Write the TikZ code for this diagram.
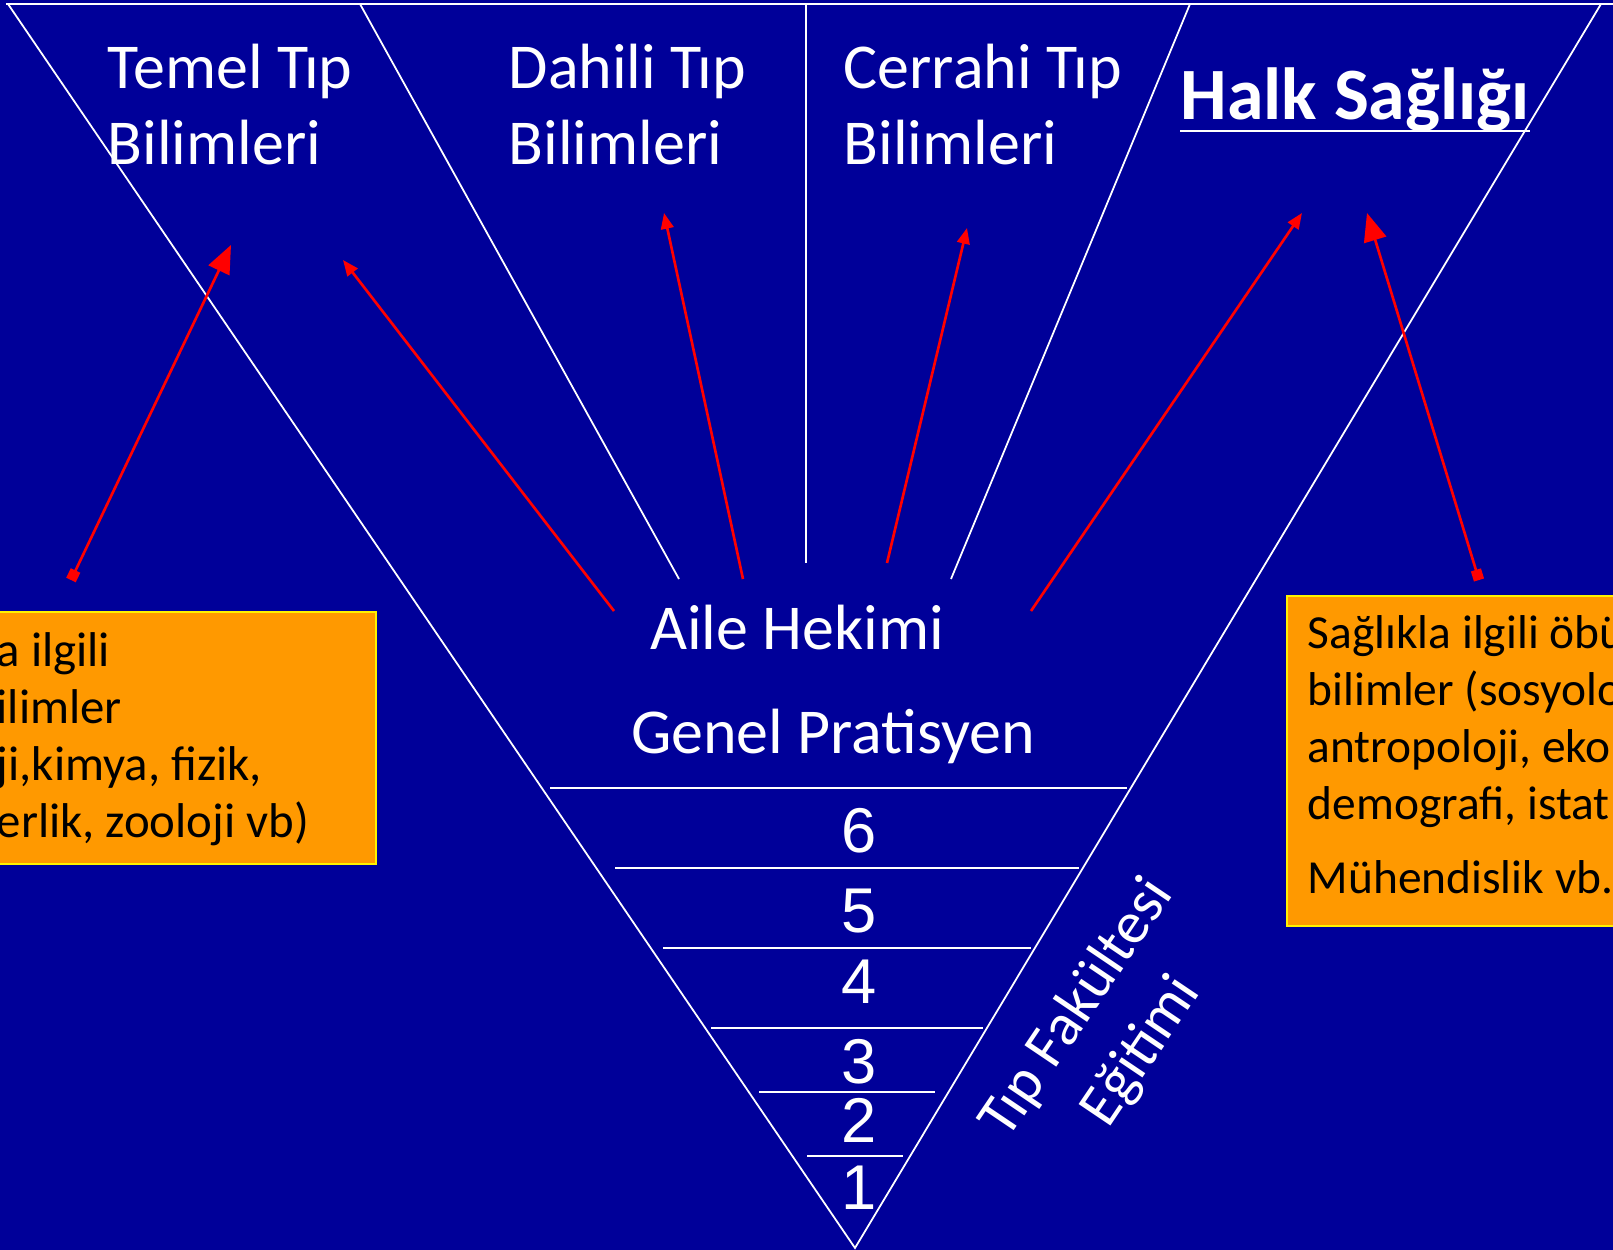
\documentclass[tikz,border=0pt]{standalone}
\usepackage{fontspec}
\setmainfont{Carlito}
\newfontfamily\digitfont{Liberation Sans}
\usepackage{tikz}
\usetikzlibrary{arrows.meta,positioning}

\definecolor{slideblue}{RGB}{0,0,153}
\definecolor{boxorange}{RGB}{255,153,0}

\begin{document}
\begin{tikzpicture}[
	head/.style={text=white, inner sep=0pt, font=\fontsize{18.2}{21.5}\selectfont},
	year/.style={text=white, inner sep=0pt, font=\digitfont\fontsize{18}{18}\selectfont},
	note/.style={text=black, inner sep=0pt, align=left, font=\fontsize{13.5}{16.2}\selectfont},
	rim/.style={white, line width=0.5pt},
	pointer/.style={red, line width=0.75pt, -{Triangle[length=4.5pt,width=3.6pt]}},
	bigpointer/.style={red, line width=0.75pt, {Square[length=3pt,width=3pt]}-{Triangle[length=8pt,width=6.5pt]}}]

	\useasboundingbox (0,0) rectangle (16.13,-12.5);
	\fill[slideblue] (0,0) rectangle (16.13,-12.5);
	\clip (0,0) rectangle (16.13,-12.5);

	% Funnel
	\draw[rim] (0.06,-0.04) -- (16.13,-0.04);
	\draw[rim] (0.08,-0.04) -- (8.55,-12.48) -- (16.01,-0.04);
	\draw[rim] (3.60,-0.04) -- (6.79,-5.79);
	\draw[rim] (8.06,-0.04) -- (8.06,-5.63);
	\draw[rim] (11.90,-0.04) -- (9.51,-5.79);

	% Branches
	\node[head, anchor=base west] (temel) at (1.07,-0.89) {Temel Tıp};
	\node[head, below=0.76cm of temel.base west, anchor=base west] (temelb) {Bilimleri};
	\node[head, anchor=base west] (dahili) at (5.08,-0.89) {Dahili Tıp};
	\node[head, below=0.76cm of dahili.base west, anchor=base west] (dahilib) {Bilimleri};
	\node[head, anchor=base west] (cerrahi) at (8.43,-0.89) {Cerrahi Tıp};
	\node[head, below=0.76cm of cerrahi.base west, anchor=base west] (cerrahib) {Bilimleri};
	\node[head, anchor=base west, font=\bfseries\fontsize{21}{25}\selectfont] (halk) at (11.80,-1.20) {Halk Sağlığı};
	\draw[white, line width=0.7pt] ([yshift=-3.1pt]halk.base west) -- ([yshift=-3.1pt]halk.base east);

	% Practice
	\node[head, anchor=base] (aile) at (7.97,-6.49) {Aile Hekimi};
	\node[head, anchor=base] (genel) at (8.33,-7.53) {Genel Pratisyen};

	% Years
	\draw[rim] (5.50,-7.88) -- (11.27,-7.88);
	\draw[rim] (6.15,-8.68) -- (10.79,-8.68);
	\draw[rim] (6.63,-9.48) -- (10.31,-9.48);
	\draw[rim] (7.11,-10.28) -- (9.83,-10.28);
	\draw[rim] (7.59,-10.92) -- (9.35,-10.92);
	\draw[rim] (8.07,-11.56) -- (9.03,-11.56);
	\node[year] (y6) at (8.59,-8.31) {6};
	\node[year] (y5) at (8.59,-9.11) {5};
	\node[year] (y4) at (8.59,-9.82) {4};
	\node[year] (y3) at (8.59,-10.62) {3};
	\node[year] (y2) at (8.59,-11.20) {2};
	\node[year] (y1) at (8.59,-11.88) {1};
	\node[head, font=\fontsize{17}{22}\selectfont, rotate=56, align=center] (egitim) at (11.10,-10.30) {Tıp Fakültesi\\Eğitimi};

	% Side boxes
	\draw[yellow, fill=boxorange, line width=0.6pt] (-0.1,-6.12) rectangle (3.76,-8.64);
	\node[note, anchor=base west, font=\fontsize{13.9}{16.2}\selectfont] (temelnot) at (-0.04,-8.37) {a ilgili\\ilimler\\ji,kimya, fizik,\\erlik, zooloji vb)};
	\draw[yellow, fill=boxorange, line width=0.6pt] (12.87,-5.96) rectangle (16.3,-9.26);
	\node[note, anchor=base west] (halknot) at (13.07,-8.93) {Sağlıkla ilgili öbü\\bilimler (sosyolo\\antropoloji, eko\\demografi, istat\\[0.17cm]Mühendislik vb.};

	% Arrows
	\coordinate (t1) at (0.71,-5.80);
	\coordinate (h1) at (2.31,-2.45);
	\coordinate (t2) at (6.14,-6.11);
	\coordinate (h2) at (3.43,-2.60);
	\coordinate (t3) at (7.43,-5.79);
	\coordinate (h3) at (6.64,-2.13);
	\coordinate (t4) at (8.87,-5.63);
	\coordinate (h4) at (9.67,-2.28);
	\coordinate (t5) at (10.31,-6.11);
	\coordinate (h5) at (13.02,-2.13);
	\coordinate (t6) at (14.79,-5.80);
	\coordinate (h6) at (13.67,-2.13);
	\draw[bigpointer] (t1) -- (h1);
	\draw[pointer] (t2) -- (h2);
	\draw[pointer] (t3) -- (h3);
	\draw[pointer] (t4) -- (h4);
	\draw[pointer] (t5) -- (h5);
	\draw[bigpointer] (t6) -- (h6);
\end{tikzpicture}
\end{document}
